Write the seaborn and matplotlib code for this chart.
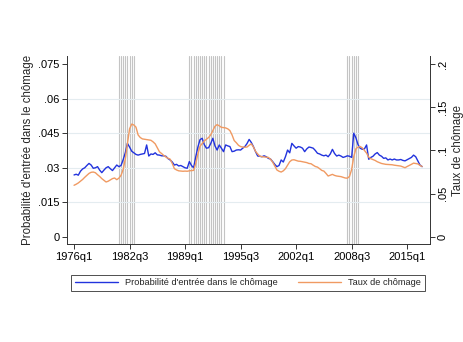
import numpy as np
import pandas as pd
import matplotlib
matplotlib.use("Agg")
import matplotlib.pyplot as plt
import seaborn as sns

# Quarterly series, 1976q1 to 2016q4 (one row per year, q1..q4)
entry_prob = [
    .0269, .0272, .0268, .0285,   # 1976
    .0295, .0300, .0310, .0319,   # 1977
    .0312, .0298, .0300, .0305,   # 1978
    .0290, .0279, .0290, .0300,   # 1979
    .0305, .0296, .0288, .0300,   # 1980
    .0312, .0305, .0310, .0335,   # 1981
    .0365, .0406, .0390, .0372,   # 1982
    .0365, .0358, .0355, .0358,   # 1983
    .0360, .0362, .0399, .0351,   # 1984
    .0360, .0358, .0365, .0356,   # 1985
    .0355, .0352, .0352, .0350,   # 1986
    .0340, .0334, .0325, .0312,   # 1987
    .0315, .0308, .0310, .0305,   # 1988
    .0300, .0298, .0327, .0310,   # 1989
    .0300, .0348, .0390, .0422,   # 1990
    .0428, .0400, .0385, .0387,   # 1991
    .0405, .0428, .0395, .0377,   # 1992
    .0399, .0385, .0370, .0399,   # 1993
    .0395, .0392, .0370, .0372,   # 1994
    .0377, .0378, .0377, .0385,   # 1995
    .0392, .0405, .0423, .0410,   # 1996
    .0392, .0370, .0351, .0350,   # 1997
    .0348, .0352, .0348, .0341,   # 1998
    .0338, .0327, .0315, .0305,   # 1999
    .0310, .0334, .0325, .0348,   # 2000
    .0377, .0365, .0406, .0395,   # 2001
    .0385, .0392, .0390, .0385,   # 2002
    .0370, .0382, .0390, .0388,   # 2003
    .0385, .0375, .0363, .0360,   # 2004
    .0355, .0352, .0355, .0348,   # 2005
    .0360, .0380, .0362, .0351,   # 2006
    .0355, .0351, .0345, .0348,   # 2007
    .0352, .0350, .0345, .0450,   # 2008
    .0430, .0400, .0385, .0380,   # 2009
    .0382, .0399, .0337, .0345,   # 2010
    .0350, .0360, .0366, .0355,   # 2011
    .0350, .0341, .0343, .0334,   # 2012
    .0338, .0334, .0338, .0334,   # 2013
    .0334, .0336, .0332, .0330,   # 2014
    .0335, .0340, .0345, .0355,   # 2015
    .0348, .0330, .0312, .0305,   # 2016
]

unemp_rate = [
    .0598, .0610, .0625, .0645,   # 1976
    .0665, .0690, .0713, .0735,   # 1977
    .0748, .0751, .0743, .0720,   # 1978
    .0700, .0675, .0655, .0636,   # 1979
    .0645, .0660, .0675, .0682,   # 1980
    .0663, .0680, .0713, .0780,   # 1981
    .0900, .1080, .1250, .1305,   # 1982
    .1295, .1270, .1180, .1150,   # 1983
    .1134, .1130, .1125, .1123,   # 1984
    .1118, .1100, .1077, .1030,   # 1985
    .0985, .0965, .0943, .0925,   # 1986
    .0910, .0900, .0850, .0790,   # 1987
    .0775, .0765, .0762, .0760,   # 1988
    .0762, .0760, .0765, .0768,   # 1989
    .0770, .0850, .0960, .1050,   # 1990
    .1080, .1110, .1130, .1150,   # 1991
    .1180, .1230, .1280, .1299,   # 1992
    .1285, .1268, .1265, .1261,   # 1993
    .1250, .1230, .1180, .1115,   # 1994
    .1090, .1060, .1045, .1040,   # 1995
    .1038, .1040, .1060, .1077,   # 1996
    .1040, .0990, .0960, .0935,   # 1997
    .0928, .0925, .0923, .0920,   # 1998
    .0900, .0866, .0820, .0775,   # 1999
    .0760, .0751, .0765, .0790,   # 2000
    .0830, .0870, .0890, .0893,   # 2001
    .0885, .0877, .0875, .0870,   # 2002
    .0866, .0860, .0850, .0847,   # 2003
    .0830, .0815, .0808, .0790,   # 2004
    .0770, .0762, .0735, .0705,   # 2005
    .0715, .0724, .0712, .0705,   # 2006
    .0701, .0698, .0690, .0682,   # 2007
    .0680, .0700, .0780, .0930,   # 2008
    .1020, .1040, .1046, .1030,   # 2009
    .1000, .0970, .0923, .0905,   # 2010
    .0895, .0885, .0870, .0860,   # 2011
    .0850, .0845, .0840, .0838,   # 2012
    .0835, .0835, .0830, .0827,   # 2013
    .0825, .0820, .0810, .0801,   # 2014
    .0815, .0827, .0840, .0854,   # 2015
    .0850, .0845, .0828, .0815,   # 2016
]

start_year = 1976
# Recession periods (first and last quarter, inclusive)
recession_start = ["1981q2", "1989q3", "2008q1"]
recession_end = ["1983q1", "1993q3", "2009q2"]

x_tick_labels = ["1976q1", "1982q3", "1989q1", "1995q3", "2002q1", "2008q3", "2015q1"]
left_ticks = [0, .015, .03, .045, .06, .075]
left_tick_labels = ["0", ".015", ".03", ".045", ".06", ".075"]
right_ticks = [0, .05, .1, .15, .2]
right_tick_labels = ["0", ".05", ".1", ".15", ".2"]

label_prob = "Probabilité d'entrée dans le chômage"
label_rate = "Taux de chômage"


def quarter_index(label):
    year, q = label.split("q")
    return (int(year) - start_year) * 4 + int(q) - 1


df = pd.DataFrame({
    "t": np.arange(len(entry_prob)),
    "prob": entry_prob,
    "rate": unemp_rate,
})

sns.set_style("white")
plt.rcParams["font.family"] = ["Liberation Sans", "DejaVu Sans"]

blue = "#2233dd"
orange = "#f09a62"
axis_col = "#333333"

fig = plt.figure(figsize=(4.64, 3.42), dpi=100)
ax = fig.add_axes([67 / 464, 1 - 244 / 342, (430 - 67) / 464, (244 - 56) / 342])
ax2 = ax.twinx()

# recession shading: one thin vertical line per quarter
for s, e in zip(recession_start, recession_end):
    for q in range(quarter_index(s), quarter_index(e) + 1):
        ax.axvline(q, color="#c4c4c4", lw=0.8, zorder=0)

for g in left_ticks[1:-1]:
    ax.axhline(g, color="#e4ecf0", lw=0.8, zorder=0)

sns.lineplot(data=df, x="t", y="prob", ax=ax, color=blue, lw=1.0, zorder=3, legend=False)
sns.lineplot(data=df, x="t", y="rate", ax=ax2, color=orange, lw=1.0, zorder=3, legend=False)

ylo, yhi = -0.00303, 0.07846
ax.set_ylim(ylo, yhi)
ax2.set_ylim(ylo * 8 / 3, yhi * 8 / 3)
ax.set_xlim(-3.3, 166.7)

ax.set_xticks([quarter_index(l) for l in x_tick_labels])
ax.set_xticklabels(x_tick_labels, fontsize=8)
ax.set_yticks(left_ticks)
ax.set_yticklabels(left_tick_labels, fontsize=8)
ax2.set_yticks(right_ticks)
ax2.set_yticklabels(right_tick_labels, fontsize=8, rotation=90, va="center")

ax.set_xlabel("")
ax.set_ylabel(label_prob, fontsize=8.3, labelpad=3)
ax2.set_ylabel(label_rate, fontsize=8.3, labelpad=3)

for a in (ax, ax2):
    a.tick_params(direction="out", length=3.5, width=0.7, color=axis_col,
                  labelcolor="black", pad=2)
    for side in ("left", "right", "bottom"):
        a.spines[side].set_visible(True)
        a.spines[side].set_color(axis_col)
        a.spines[side].set_linewidth(0.7)
    a.spines["top"].set_visible(False)
ax.spines["right"].set_visible(False)
ax2.spines["left"].set_visible(False)
ax2.spines["bottom"].set_visible(False)
ax.tick_params(axis="y", left=True, right=False)
ax.tick_params(axis="x", bottom=True)
ax2.tick_params(axis="y", right=True, left=False)

handles = [plt.Line2D([], [], color=blue, lw=1.0),
           plt.Line2D([], [], color=orange, lw=1.0)]
leg = fig.legend(handles, [label_prob, label_rate], ncol=2, mode="expand",
                 bbox_to_anchor=(71 / 464, 1 - 291 / 342, (425 - 71) / 464, 22 / 342),
                 loc="lower left", fontsize=6.7, frameon=True, fancybox=False,
                 handlelength=4.6, borderaxespad=0, columnspacing=1.5)
leg.get_frame().set_edgecolor("#222222")
leg.get_frame().set_linewidth(0.7)

fig.savefig("out.png", dpi=100, facecolor="white")
